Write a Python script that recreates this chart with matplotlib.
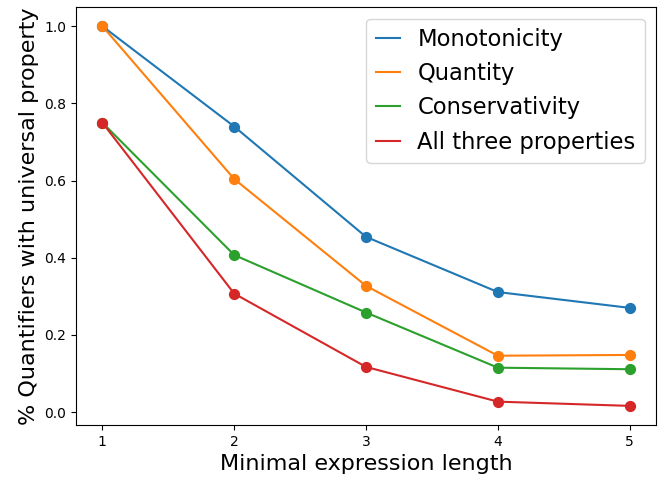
import matplotlib
matplotlib.use("Agg")
import matplotlib.pyplot as plt

lengths = [1, 2, 3, 4, 5]
monotonicity = [1.0, 0.740, 0.454, 0.311, 0.270]
quantity = [1.0, 0.604, 0.327, 0.146, 0.148]
conservativity = [0.75, 0.407, 0.258, 0.115, 0.111]
all_three = [0.75, 0.307, 0.117, 0.027, 0.016]

series = [
    ("Monotonicity", monotonicity, "C0"),
    ("Quantity", quantity, "C1"),
    ("Conservativity", conservativity, "C2"),
    ("All three properties", all_three, "C3"),
]

fig, ax = plt.subplots(figsize=(6.58, 4.79), dpi=100)
fig.subplots_adjust(left=0.1155, right=0.997, top=0.985, bottom=0.113)

for name, vals, col in series:
    ax.plot(lengths, vals, color=col, label=name, linewidth=1.5)
    ax.scatter(lengths, vals, color=col, s=50, zorder=3)

ax.set_xticks(lengths)
ax.tick_params(labelsize=10)
ax.set_xlabel("Minimal expression length", fontsize=16)
ax.set_ylabel("% Quantifiers with universal property", fontsize=16)
ax.legend(loc="upper right", fontsize=16.3, handlelength=1.1,
          labelspacing=0.5, handletextpad=0.75)

plt.savefig("out.png")
